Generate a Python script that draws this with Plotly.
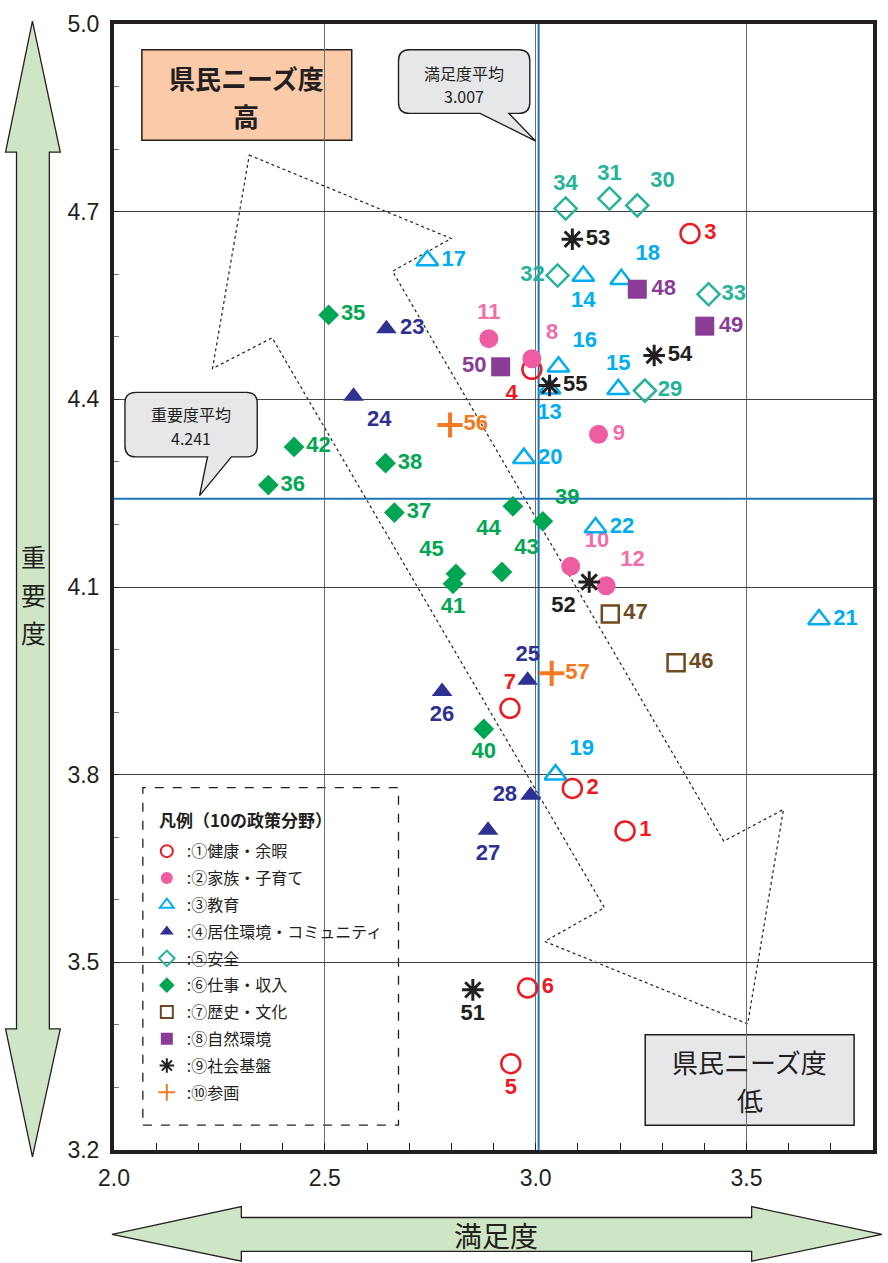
import plotly.graph_objects as go

# ---------------- data ----------------
categories = ["①健康・余暇", "②家族・子育て", "③教育", "④居住環境・コミュニティ", "⑤安全",
              "⑥仕事・収入", "⑦歴史・文化", "⑧自然環境", "⑨社会基盤", "⑩参画"]

c1_ids = [1, 2, 3, 4, 5, 6, 7]
c1_sat = [3.212, 3.087, 3.366, 2.991, 2.941, 2.981, 2.939]
c1_imp = [3.710, 3.778, 4.665, 4.448, 3.338, 3.459, 3.906]

c2_ids = [8, 9, 10, 11, 12]
c2_sat = [2.991, 3.149, 3.083, 2.889, 3.167]
c2_imp = [4.465, 4.344, 4.133, 4.497, 4.102]

c3_ids = [13, 14, 15, 16, 17, 18, 19, 20, 21, 22]
c3_sat = [3.033, 3.113, 3.196, 3.054, 2.743, 3.203, 3.047, 2.972, 3.672, 3.142]
c3_imp = [4.417, 4.597, 4.416, 4.452, 4.622, 4.592, 3.800, 4.306, 4.048, 4.195]

c4_ids = [23, 24, 25, 26, 27, 28]
c4_sat = [2.646, 2.568, 2.981, 2.778, 2.887, 2.988]
c4_imp = [4.513, 4.405, 3.951, 3.933, 3.711, 3.767]

c5_ids = [29, 30, 31, 32, 33, 34]
c5_sat = [3.259, 3.241, 3.175, 3.052, 3.410, 3.071]
c5_imp = [4.414, 4.710, 4.721, 4.598, 4.568, 4.705]

c6_ids = [35, 36, 37, 38, 39, 40, 41, 42, 43, 44, 45]
c6_sat = [2.509, 2.366, 2.665, 2.644, 3.017, 2.877, 2.804, 2.427, 2.920, 2.946, 2.811]
c6_imp = [4.535, 4.263, 4.219, 4.298, 4.205, 3.873, 4.105, 4.324, 4.124, 4.229, 4.121]

c7_ids = [46, 47]
c7_sat = [3.333, 3.177]
c7_imp = [3.979, 4.057]

c8_ids = [48, 49, 50]
c8_sat = [3.241, 3.401, 2.917]
c8_imp = [4.576, 4.517, 4.452]

c9_ids = [51, 52, 53, 54, 55]
c9_sat = [2.851, 3.127, 3.087, 3.281, 3.033]
c9_imp = [3.456, 4.108, 4.656, 4.470, 4.422]

c10_ids = [56, 57]
c10_sat = [2.797, 3.038]
c10_imp = [4.359, 3.962]

sat_mean = 3.007
imp_mean = 4.241

x_ticks = [2.0, 2.5, 3.0, 3.5]
y_ticks = [3.2, 3.5, 3.8, 4.1, 4.4, 4.7, 5.0]

# ---------------- styles ----------------
W, H = 888, 1263
ML, MR, MT, MB = 114, 11, 16, 113
NUM_FONT = "Liberation Sans Narrow, Arial Narrow, Liberation Sans, Arial, sans-serif"
JP_FONT = "Noto Sans CJK JP, sans-serif"

series = [
    (c1_ids, c1_sat, c1_imp, "circle-open", "#ed1c24", "#ed1c24", 19, 2.5),
    (c2_ids, c2_sat, c2_imp, "circle", "#ee5ca2", "#f06eaa", 19, 0),
    (c3_ids, c3_sat, c3_imp, "triangle-up-open", "#00aeef", "#00aeef", 19, 2.5),
    (c4_ids, c4_sat, c4_imp, "triangle-up", "#2e3192", "#2e3192", 18, 0),
    (c5_ids, c5_sat, c5_imp, "diamond-open", "#25b39a", "#25b39a", 17, 2.5),
    (c6_ids, c6_sat, c6_imp, "diamond", "#00a651", "#00a651", 16, 0),
    (c7_ids, c7_sat, c7_imp, "square-open", "#704a1f", "#704a1f", 17, 2.5),
    (c8_ids, c8_sat, c8_imp, "square", "#8b3c96", "#8b3c96", 19, 0),
    (c9_ids, c9_sat, c9_imp, "asterisk-open", "#231f20", "#231f20", 18, 3),
    (c10_ids, c10_sat, c10_imp, "cross-thin-open", "#f47920", "#f47920", 18, 4),
]

label_pos = {
    1: "middle right", 2: "middle right", 3: "middle right", 4: "bottom left",
    5: "bottom center", 6: "middle right", 7: "top center", 8: "top right",
    9: "middle right", 10: "top right", 11: "top center", 12: "top right",
    13: "bottom center", 14: "bottom center", 15: "top center", 16: "top right",
    17: "middle right", 18: "top right", 19: "top right", 20: "middle right",
    21: "middle right", 22: "middle right", 23: "middle right", 24: "bottom right",
    25: "top center", 26: "bottom center", 27: "bottom center", 28: "middle left",
    29: "middle right", 30: "top right", 31: "top center", 32: "middle left",
    33: "middle right", 34: "top center", 35: "middle right", 36: "middle right",
    37: "middle right", 38: "middle right", 39: "top right", 40: "bottom center",
    41: "bottom center", 42: "middle right", 43: "top right", 44: "bottom left",
    45: "top left", 46: "middle right", 47: "middle right", 48: "middle right",
    49: "middle right", 50: "middle left", 51: "bottom center", 52: "bottom left",
    53: "middle right", 54: "middle right", 55: "middle right", 56: "middle right",
    57: "middle right",
}

fig = go.Figure()

for i, (ids, xs, ys, sym, mcol, tcol, msize, lw) in enumerate(series):
    open_sym = sym.endswith("open")
    marker = dict(symbol=sym, size=msize, color=mcol,
                  line=dict(color=mcol, width=lw if open_sym else 0))
    fig.add_trace(go.Scatter(
        x=xs, y=ys, mode="markers", marker=marker,
        name=":" + categories[i], legendgroup=f"g{i}", showlegend=True,
        hoverinfo="skip"))
    # labels: invisible markers of the same size so the text is offset from the mark
    fig.add_trace(go.Scatter(
        x=xs, y=ys, mode="markers+text", text=[str(v) for v in ids],
        marker=dict(size=msize + 2, color="rgba(0,0,0,0)", line=dict(width=0)),
        textposition=[label_pos[v] for v in ids],
        textfont=dict(family=NUM_FONT, size=22, color=tcol, weight="bold"),
        showlegend=False, hoverinfo="skip"))

# ---------------- decoration helpers ----------------
PW = W - ML - MR
PH = H - MT - MB


def P(x, y):
    return ((x - ML) / PW, (H - MB - y) / PH)


def path_from(points):
    s = ""
    for k, (x, y) in enumerate(points):
        px, py = P(x, y)
        s += ("M" if k == 0 else "L") + f"{px:.5f},{py:.5f} "
    return s + "Z"


def callout(x0, y0, x1, y1, r, t0, tip, t1):
    def p(x, y):
        a, b = P(x, y)
        return f"{a:.5f},{b:.5f}"
    s = f"M{p(x0 + r, y0)} L{p(x1 - r, y0)} Q{p(x1, y0)} {p(x1, y0 + r)} "
    s += f"L{p(x1, y1 - r)} Q{p(x1, y1)} {p(x1 - r, y1)} "
    s += f"L{p(t1, y1)} L{p(tip[0], tip[1])} L{p(t0, y1)} "
    s += f"L{p(x0 + r, y1)} Q{p(x0, y1)} {p(x0, y1 - r)} "
    s += f"L{p(x0, y0 + r)} Q{p(x0, y0)} {p(x0 + r, y0)} Z"
    return s


shapes = []
# side arrows (outside plot area)
shapes.append(dict(type="path", xref="paper", yref="paper", layer="above",
                   path=path_from([(32, 13), (60, 145), (49, 145), (49, 1028), (60, 1028),
                                   (32, 1157), (5, 1028), (16, 1028), (16, 145), (5, 145)]),
                   fillcolor="#cfe6c6", line=dict(color="#231f20", width=1.3)))
shapes.append(dict(type="path", xref="paper", yref="paper", layer="above",
                   path=path_from([(112, 1235), (242, 1207), (242, 1218), (755, 1218), (755, 1207),
                                   (886, 1235), (755, 1262), (755, 1252), (242, 1252), (242, 1262)]),
                   fillcolor="#cfe6c6", line=dict(color="#231f20", width=1.3)))
# dotted double arrow
shapes.append(dict(type="path", xref="paper", yref="paper", layer="between",
                   path=path_from([(250, 148), (453, 232), (394, 265), (727, 839), (787, 807),
                                   (751, 1023), (547, 940), (607, 906), (273, 332), (213, 363)]),
                   line=dict(color="#231f20", width=1.2, dash="dot")))
# average lines
shapes.append(dict(type="line", xref="x", yref="paper", x0=sat_mean, x1=sat_mean, y0=0, y1=1,
                   layer="between", line=dict(color="#1b75bb", width=2)))
shapes.append(dict(type="line", xref="paper", yref="y", x0=0, x1=1, y0=imp_mean, y1=imp_mean,
                   layer="between", line=dict(color="#1b75bb", width=2)))
# legend box
lx0, ly0 = P(143, 785)
lx1, ly1 = P(400, 1125)
shapes.append(dict(type="rect", xref="paper", yref="paper", x0=lx0, y0=ly1, x1=lx1, y1=ly0,
                   layer="between", fillcolor="white",
                   line=dict(color="#231f20", width=1.3, dash="dash")))
# high / low boxes
hx0, hy0 = P(142, 42)
hx1, hy1 = P(353, 133)
shapes.append(dict(type="rect", xref="paper", yref="paper", x0=hx0, y0=hy1, x1=hx1, y1=hy0,
                   layer="between", fillcolor="#fbcaa8", line=dict(color="#231f20", width=1.5)))
gx0, gy0 = P(648, 1034)
gx1, gy1 = P(858, 1125)
shapes.append(dict(type="rect", xref="paper", yref="paper", x0=gx0, y0=gy1, x1=gx1, y1=gy0,
                   layer="between", fillcolor="#e6e7e8", line=dict(color="#231f20", width=1.5)))
# callouts
shapes.append(dict(type="path", xref="paper", yref="paper", layer="above",
                   path=callout(400, 42, 532, 106, 11, 482, (538, 134), 511),
                   fillcolor="#e6e7e8", line=dict(color="#231f20", width=1.4)))
shapes.append(dict(type="path", xref="paper", yref="paper", layer="above",
                   path=callout(125, 387, 258, 452, 11, 208, (200, 491), 232),
                   fillcolor="#e6e7e8", line=dict(color="#231f20", width=1.4)))

annotations = []


def add_text(x, y, text, size, color="#231f20", bold=False, family=JP_FONT, anchor="center"):
    ax, ay = P(x, y)
    annotations.append(dict(xref="paper", yref="paper", x=ax, y=ay, text=text, showarrow=False,
                            xanchor=anchor, yanchor="middle",
                            font=dict(family=family, size=size, color=color,
                                      weight="bold" if bold else "normal")))


add_text(247, 70, "県民ニーズ度", 26, bold=True)
add_text(247, 108, "高", 26, bold=True)
add_text(753, 1061, "県民ニーズ度", 26)
add_text(753, 1099, "低", 26)
add_text(466, 65, "満足度平均", 16)
add_text(466, 89, f"{sat_mean:.3f}", 16)
add_text(191, 409, "重要度平均", 16)
add_text(191, 433, f"{imp_mean:.3f}", 16)
add_text(33, 552, "重", 25)
add_text(33, 590, "要", 25)
add_text(33, 628, "度", 25)
add_text(498, 1236, "満足度", 28)
add_text(157, 817, "凡例（10の政策分野）", 17, bold=True, anchor="left")

fig.update_layout(
    width=W, height=H, autosize=False,
    margin=dict(l=ML, r=MR, t=MT, b=MB),
    paper_bgcolor="white", plot_bgcolor="white",
    shapes=shapes, annotations=annotations,
    showlegend=True,
    legend=dict(
        x=P(147, 0)[0], y=P(0, 832)[1], xanchor="left", yanchor="top",
        bgcolor="rgba(0,0,0,0)", borderwidth=0,
        font=dict(family=JP_FONT, size=16, color="#231f20"),
        tracegroupgap=3, itemwidth=30, itemsizing="constant",
    ),
    xaxis=dict(
        range=[2.0, 3.8], tickvals=x_ticks, ticktext=[f"{v:.1f}" for v in x_ticks],
        showgrid=True, gridcolor="#6d6e71", gridwidth=1, zeroline=False,
        showline=True, linecolor="#231f20", linewidth=4, mirror=True,
        ticks="inside", ticklen=7, tickcolor="#231f20",
        minor=dict(dtick=0.1, tick0=2.0, ticks="inside", ticklen=7, tickcolor="#231f20",
                   showgrid=False),
        tickfont=dict(family=NUM_FONT, size=23, color="#231f20"),
        ticklabelstandoff=4,
    ),
    yaxis=dict(
        range=[3.2, 5.0], tickvals=y_ticks, ticktext=[f"{v:.1f}" for v in y_ticks],
        showgrid=True, gridcolor="#414042", gridwidth=1, zeroline=False,
        showline=True, linecolor="#231f20", linewidth=4, mirror=True,
        ticks="inside", ticklen=5, tickcolor="#231f20",
        minor=dict(dtick=0.1, tick0=3.2, ticks="inside", ticklen=5, tickcolor="#777777",
                   showgrid=False),
        tickfont=dict(family=NUM_FONT, size=23, color="#231f20"),
        ticklabelstandoff=6,
    ),
)

fig.write_html("out.html", config={"displayModeBar": False},
               post_script="document.body.style.margin='0';document.body.style.overflow='hidden';")
